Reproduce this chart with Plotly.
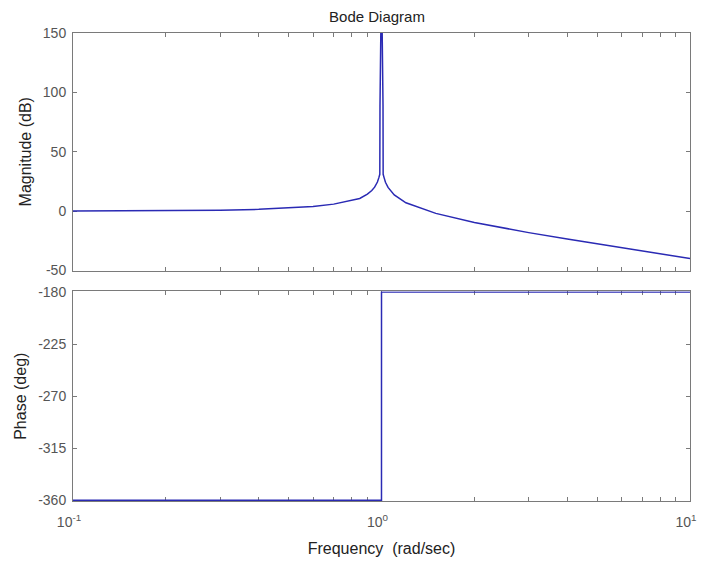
import plotly.graph_objects as go
from plotly.subplots import make_subplots

# Magnitude data
freq_mag = [0.1, 0.2, 0.3, 0.4, 0.5, 0.6, 0.7, 0.8, 0.85, 0.9, 0.93, 0.95, 0.97, 0.98,
            0.9875, 0.9888, 1.0, 1.0113, 1.0125, 1.02, 1.03, 1.05, 1.1, 1.2, 1.5,
            2, 3, 4, 5, 6, 7, 8, 9, 10]
magnitude_db = [0.1, 0.4, 0.8, 1.5, 2.5, 3.9, 5.9, 8.9, 10.7, 14.4, 17.4, 20.2, 24.5, 28.0,
                31.0, 89.0, 200.0, 89.0, 31.0, 28.0, 24.3, 20.0, 13.6, 7.0, -1.9,
                -9.5, -18.1, -23.5, -27.6, -30.9, -33.6, -36.0, -38.1, -39.9]

# Phase data
freq_ph = [0.1, 0.9999, 1.0, 1.0001, 10]
phase_deg = [-360, -360, -270, -180, -180]

# Tick labels
x_tickvals = [0.1, 0.2, 0.3, 0.4, 0.5, 0.6, 0.7, 0.8, 0.9,
              1, 2, 3, 4, 5, 6, 7, 8, 9, 10]
x_ticktext = ["10<sup>-1</sup>"] + [""] * 8 + ["10<sup>0</sup>"] + [""] * 8 + ["10<sup>1</sup>"]
mag_ticks = [-50, 0, 50, 100, 150]
mag_ticktext = ["-50", "0", "50", "100", "150"]
phase_ticks = [-360, -315, -270, -225, -180]
phase_ticktext = ["-360", "-315", "-270", "-225", "-180"]

LINE = "#2a2ab4"
AX = "#7a7a7a"
TXT = "#555555"
FONT = "Liberation Sans, Arial, sans-serif"

W, H = 697, 557  # page body has an 8px margin

fig = make_subplots(rows=2, cols=1, shared_xaxes=True, vertical_spacing=0.0)

fig.add_trace(go.Scatter(x=freq_mag, y=magnitude_db, mode="lines",
                         line=dict(color=LINE, width=1.5), showlegend=False), row=1, col=1)
fig.add_trace(go.Scatter(x=freq_ph, y=phase_deg, mode="lines",
                         line=dict(color=LINE, width=1.5), showlegend=False), row=2, col=1)

common_x = dict(type="log", range=[-1, 1], tickvals=x_tickvals, ticktext=x_ticktext,
                ticks="inside", ticklen=4, tickcolor=AX, showline=True, linecolor=AX,
                linewidth=1, mirror="ticks", showgrid=False, zeroline=False,
                automargin=False, ticklabeloverflow="allow", ticklabelstandoff=8,
                ticklabelshift=-4,
                layer="below traces", tickfont=dict(family=FONT, size=14, color=TXT))

fig.update_xaxes(**common_x)
fig.update_xaxes(showticklabels=False, row=1, col=1)
fig.update_xaxes(title=dict(text="Frequency  (rad/sec)", font=dict(family=FONT, size=16, color="#222"),
                            standoff=14), row=2, col=1)

common_y = dict(ticks="inside", ticklen=4, tickcolor=AX, showline=True, linecolor=AX,
                linewidth=1, mirror="ticks", showgrid=False, zeroline=False,
                automargin=False, ticklabelstandoff=3,
                layer="below traces", tickfont=dict(family=FONT, size=14, color=TXT))
fig.update_yaxes(**common_y)
fig.update_yaxes(range=[-50, 150], tickvals=mag_ticks, ticktext=mag_ticktext,
                 title=dict(text="Magnitude (dB)", font=dict(family=FONT, size=16, color="#222"),
                            standoff=7),
                 domain=[0.4925, 1.0], row=1, col=1)
fig.update_yaxes(range=[-360.6, -179.4], tickvals=phase_ticks, ticktext=phase_ticktext,
                 title=dict(text="Phase (deg)", font=dict(family=FONT, size=16, color="#222"),
                            standoff=7),
                 domain=[0.0, 0.4478], row=2, col=1)

fig.update_layout(
    width=W, height=H,
    margin=dict(l=65, r=15, t=25, b=64, autoexpand=False),
    paper_bgcolor="white", plot_bgcolor="white",
    title=dict(text="Bode Diagram", x=(377 - 8) / W, xanchor="center", y=1 - 9 / H, yanchor="middle",
               font=dict(family=FONT, size=15, color="#222")),
)

fig.write_html("out.html")
